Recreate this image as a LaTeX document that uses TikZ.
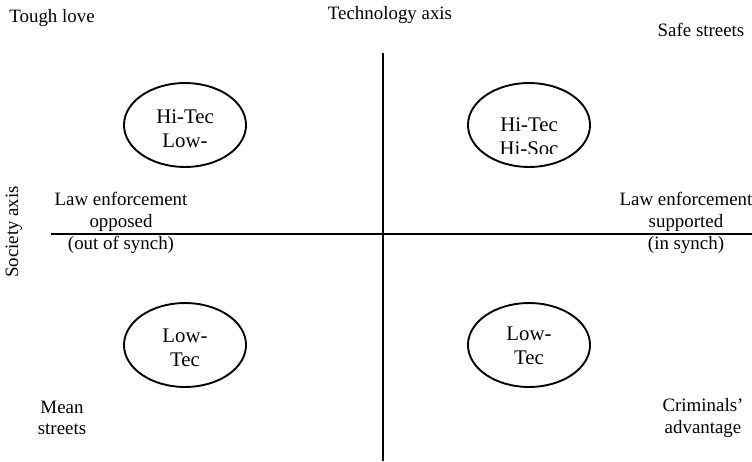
\documentclass[tikz,border=0pt]{standalone}
\usepackage{fontspec}
\setmainfont{Liberation Serif}
\usetikzlibrary{shapes.geometric}

\tikzset{
  bulle/.style={draw, line width=1.2pt, ellipse, minimum width=77.5pt, minimum height=53.3pt, inner sep=0pt},
  etiquette/.style={align=center, inner sep=0pt, font=\fontsize{12}{13.8}\selectfont},
  dedans/.style={align=center, inner sep=0pt, font=\fontsize{13.2}{15.2}\selectfont}
}

\begin{document}
\begin{tikzpicture}[x=0.635pt,y=-0.635pt]

  \useasboundingbox (0,0) rectangle (752,461);

% Axes
  \coordinate (haut) at (383,53);
  \coordinate (bas) at (383,461);
  \coordinate (gauche) at (51,234);
  \coordinate (droite) at (752,234);
  \draw[line width=1.2pt] (haut) -- (bas);
  \draw[line width=1.2pt] (gauche) -- (droite);

% Ellipses des quadrants
  \foreach \nom/\x/\y in {hg/185/125, hd/529/125, bg/185/345, bd/529/345}
  \node[bulle] (\nom) at (\x,\y) {};

% Textes (coupes en bas comme dans les cadres)
  \node[dedans] (thg) at (185,129) {Hi-Tec\\Low-};
  \begin{scope}
    \clip (470,100) rectangle (590,153);
    \node[dedans] (thd) at (529,137) {Hi-Tec\\Hi-Soc};
  \end{scope}
  \node[dedans] (tbg) at (185,348) {Low-\\Tec};
  \begin{scope}
    \clip (470,320) rectangle (590,364);
    \node[dedans] (tbd) at (529,346) {Low-\\Tec};
  \end{scope}

% Labels
  \node[etiquette] (tough) at (52,18) {Tough love};
  \node[etiquette] (techno) at (390,15) {Technology axis};
  \node[etiquette] (safe) at (701,30) {Safe streets};
  \node[etiquette] (oppose) at (121,223) {Law enforcement\\opposed\\(out of synch)};
  \node[etiquette] (soutien) at (686,223) {Law enforcement\\supported\\(in synch)};
  \node[etiquette, rotate=90] (societe) at (14,232) {Society axis};
  \node[etiquette] (mean) at (62,418) {Mean\\streets};
  \node[etiquette] (crim) at (703,418) {Criminals'\\advantage};

\end{tikzpicture}
\end{document}
